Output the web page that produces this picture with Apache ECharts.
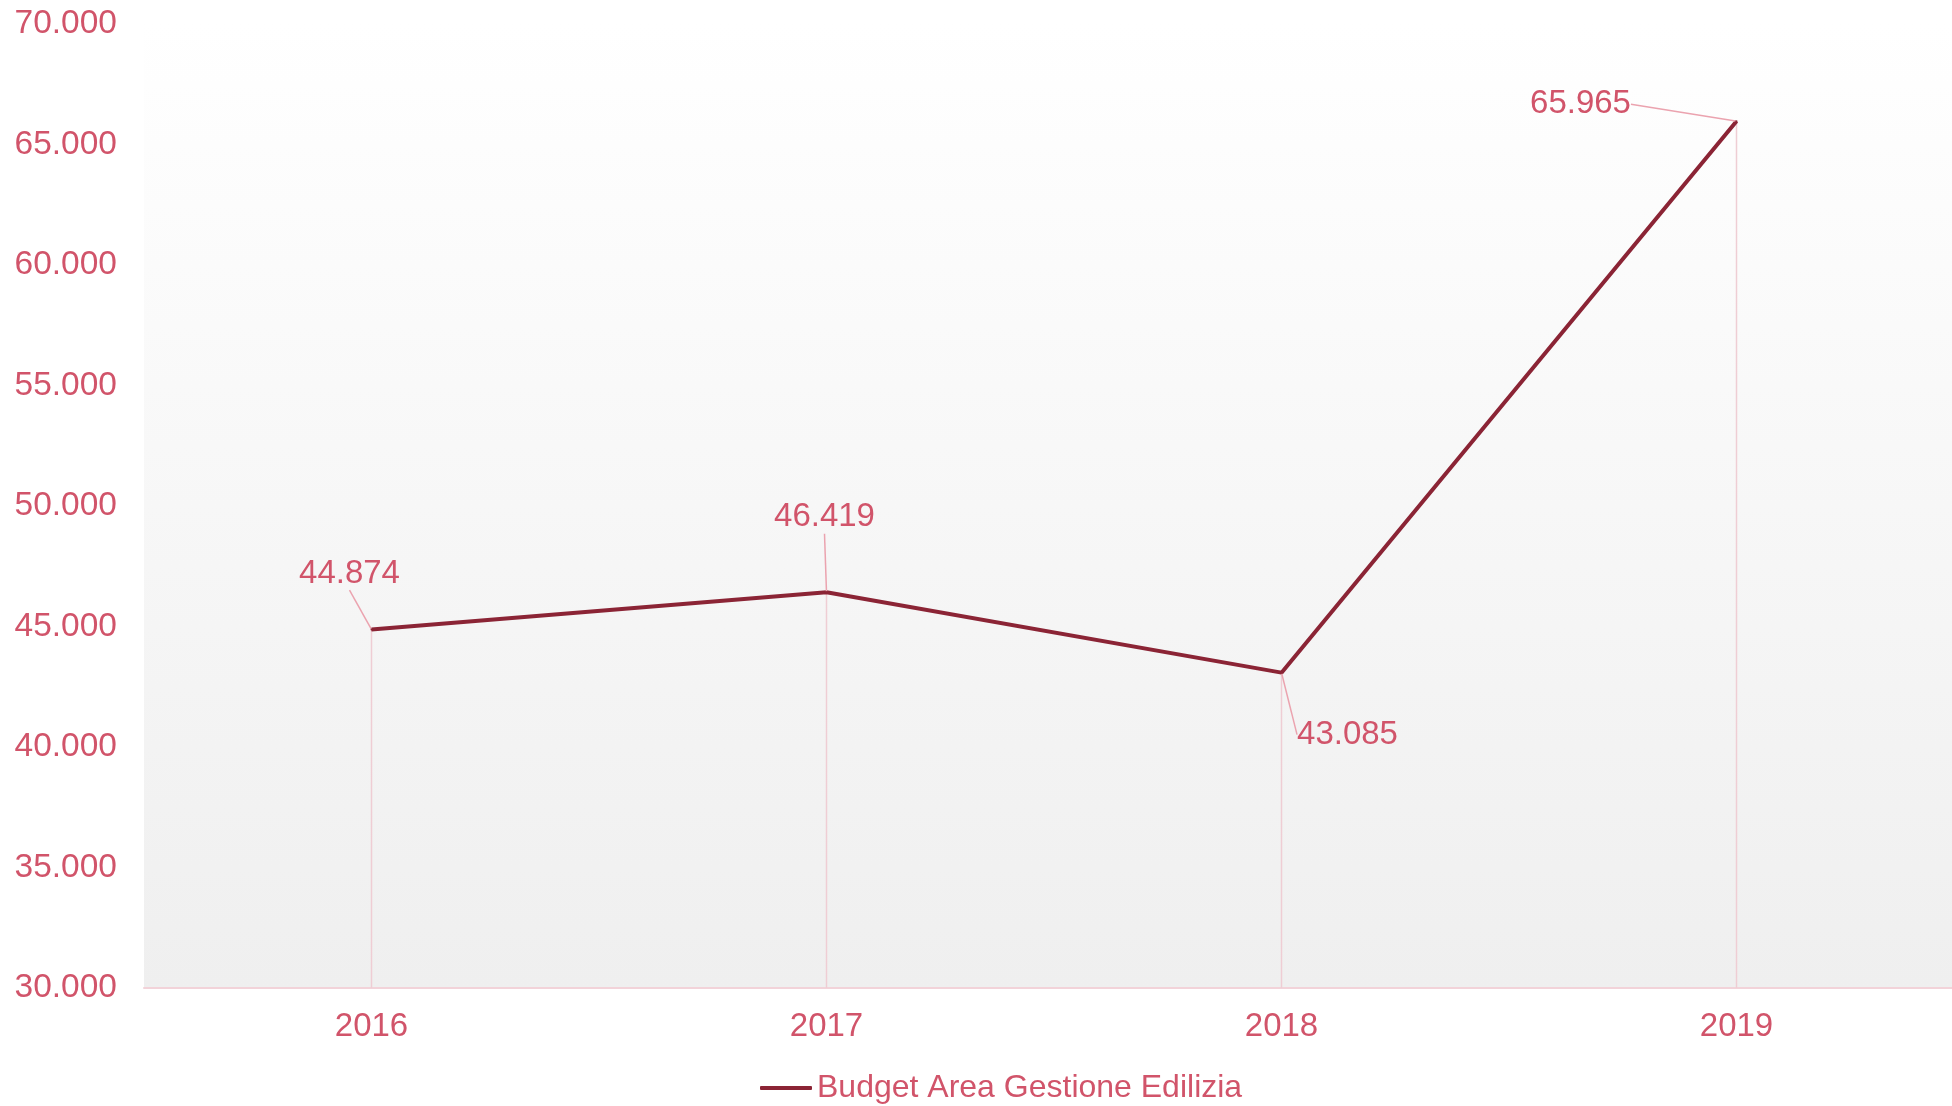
<!DOCTYPE html>
<html>
<head>
<meta charset="utf-8">
<title>Budget Area Gestione Edilizia</title>
<script src="https://cdn.jsdelivr.net/npm/echarts@6/dist/echarts.min.js"></script>
<style>
  html, body { margin: 0; padding: 0; background: #fff; }
  #chart { width: 1952px; height: 1106px; }
</style>
</head>
<body>
<div id="chart"></div>
<script>
var years = ['2016', '2017', '2018', '2019'];
var budget = [44874, 46419, 43085, 65965];
var seriesName = 'Budget Area Gestione Edilizia';

// where each value label sits relative to its point
var labelShift = [[-22, -56], [-2, -75], [66, 62], [-156, -17]];

var textColor = '#d1546a';

function fmt(v) {
    return String(v).replace(/\B(?=(\d{3})+(?!\d))/g, '.');
}

var option = {
    animation: false,
    textStyle: { fontFamily: 'Liberation Sans, Arial, sans-serif' },
    grid: {
        show: true,
        top: 24,
        bottom: 118,
        left: 144,
        right: -12,
        outerBoundsMode: 'none',
        borderWidth: 0,
        backgroundColor: {
            type: 'linear', x: 0, y: 0, x2: 0, y2: 1,
            colorStops: [
                { offset: 0, color: '#ffffff' },
                { offset: 1, color: '#efefef' }
            ]
        }
    },
    legend: {
        data: [{ name: seriesName, icon: 'roundRect' }],
        left: 755,
        bottom: -3,
        itemWidth: 52,
        itemHeight: 4,
        itemGap: 5,
        itemStyle: { color: '#8b2435' },
        textStyle: { color: textColor, fontSize: 32 }
    },
    xAxis: {
        type: 'category',
        data: years,
        axisTick: { show: false },
        axisLine: { lineStyle: { color: '#f2d3d9', width: 2 } },
        axisLabel: { color: textColor, fontSize: 33, margin: 22 }
    },
    yAxis: {
        type: 'value',
        min: 30000,
        max: 70000,
        interval: 5000,
        splitLine: { show: false },
        axisLine: { show: false },
        axisTick: { show: false },
        axisLabel: { color: textColor, fontSize: 33.5, margin: 27, padding: [4, 0, 0, 0], formatter: fmt }
    },
    series: [
        {
            name: 'drop',
            type: 'bar',
            data: budget,
            barWidth: 1.5,
            silent: true,
            itemStyle: { color: '#efcdd4' },
            z: 1
        },
        {
            name: seriesName,
            type: 'line',
            data: budget,
            symbol: 'circle',
            symbolSize: 2,
            itemStyle: { color: '#8b2435' },
            lineStyle: { color: '#8b2435', width: 4 },
            z: 3,
            label: {
                show: true,
                position: 'inside',
                color: textColor,
                fontSize: 33,
                formatter: function (p) { return fmt(p.value); }
            },
            labelLine: {
                show: true,
                lineStyle: { color: '#eba3af', width: 1.5 }
            },
            labelLayout: function (p) {
                var s = labelShift[p.dataIndex];
                return { dx: s[0], dy: s[1] };
            }
        }
    ]
};

var myChart = echarts.init(document.getElementById('chart'));
myChart.setOption(option);
</script>
</body>
</html>
